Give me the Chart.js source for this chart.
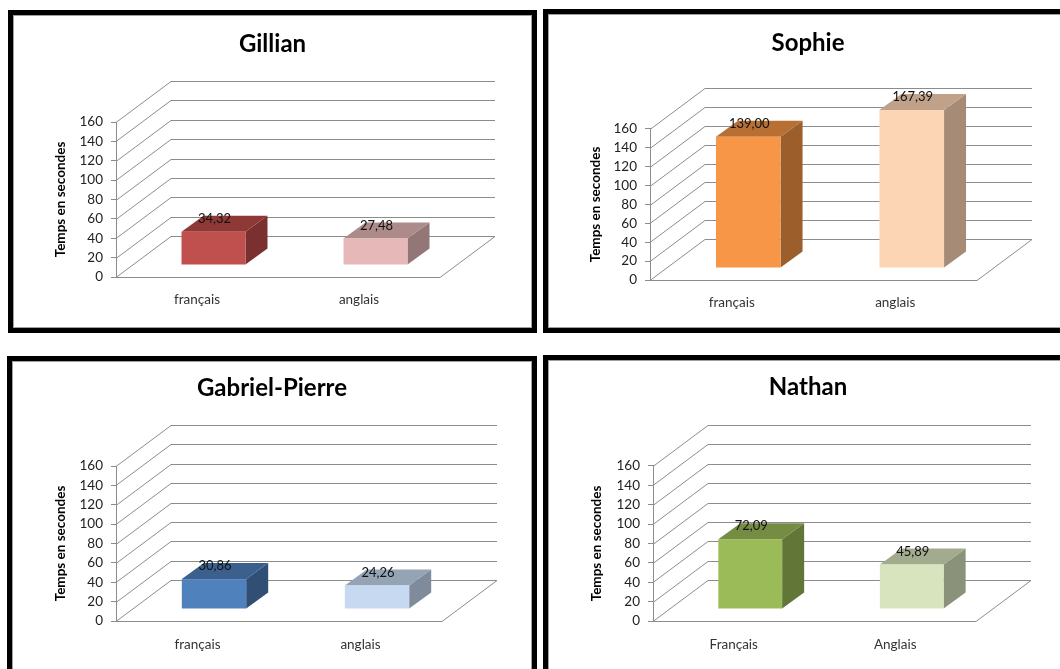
<!DOCTYPE html>
<html>
<head>
<meta charset="utf-8">
<script src="https://cdn.jsdelivr.net/npm/chart.js@4.4.1/dist/chart.umd.min.js"></script>
<style>
  html, body { margin: 0; padding: 0; background: #fff; width: 1060px; height: 669px; overflow: hidden; }
  .panel { position: absolute; box-sizing: border-box; border: 5px solid #000; background: #fff; }
  .inner { box-sizing: border-box; border: 1px solid #a0a0a0; width: 100%; height: 100%; }
  canvas { display: block; }
</style>
</head>
<body>
<script>
// ---------------- DATA ----------------
const titles = ['Gillian', 'Sophie', 'Gabriel-Pierre', 'Nathan'];
const categoriesLower = ['français', 'anglais'];
const categoriesUpper = ['Français', 'Anglais'];
const gillianValues = [34.32, 27.48];
const sophieValues = [139.00, 167.39];
const gabrielValues = [30.86, 24.26];
const nathanValues = [72.09, 45.89];
const yTickMin = 0, yTickMax = 160, yTickStep = 20;
const yAxisTitle = 'Temps en secondes';

// ---------------- STYLES ----------------
const palettes = [
  [{front:'#C0504D', top:'#8E3936', side:'#7A302E'}, {front:'#E6B9B8', top:'#AD8B8A', side:'#927776'}],
  [{front:'#F79646', top:'#B86F34', side:'#9C5F2C'}, {front:'#FCD5B5', top:'#C0A28A', side:'#A68C77'}],
  [{front:'#4F81BD', top:'#3B608D', side:'#314F74'}, {front:'#C6D9F1', top:'#95A4B5', side:'#7F8B9A'}],
  [{front:'#9BBB59', top:'#758C43', side:'#627638'}, {front:'#D7E4BD', top:'#A2AB8E', side:'#8B927A'}]
];
const FONT = 'Lato, "Open Sans", sans-serif';
const WALL = '#8c8c8c';
const DEPTH = {dx: 55, dy: -41};      // wall depth
const BAR_FRONT = {dx: 16.5, dy: -12}; // bar front face offset
const BAR_DEPTH = {dx: 22, dy: -16};   // bar depth
const TICK_SIZE = 13.5, CAT_SIZE = 13.5, LABEL_SIZE = 13, YTITLE_SIZE = 13.5, TITLE_SIZE = 24;

// ---------------- LAYOUT ----------------
const panels = [
  {left: 8,   top: 10,  w: 529, h: 323, L: 102, R: 426, T: 106, B: 261, titleCy: 28, yTitleX: 46.5, xGap: 23},
  {left: 543, top: 9,   w: 530, h: 324, L: 101, R: 428, T: 114, B: 265, titleCy: 28, yTitleX: 47,   xGap: 23},
  {left: 7,   top: 356, w: 530, h: 330, L: 103, R: 429, T: 104, B: 259, titleCy: 26, yTitleX: 47.5, xGap: 24},
  {left: 543, top: 355, w: 530, h: 330, L: 104, R: 427, T: 105, B: 260, titleCy: 26, yTitleX: 48,   xGap: 24}
];
const seriesList = [gillianValues, sophieValues, gabrielValues, nathanValues];
const categoryList = [categoriesLower, categoriesLower, categoriesLower, categoriesUpper];

function line(ctx, x1, y1, x2, y2) {
  ctx.beginPath(); ctx.moveTo(x1, y1); ctx.lineTo(x2, y2); ctx.stroke();
}

const threeD = {
  id: 'threeD',
  beforeDatasetsDraw(chart, args, opts) {
    const ctx = chart.ctx;
    const {left: L, right: R} = chart.chartArea;
    const y = chart.scales.y;
    ctx.save();
    ctx.strokeStyle = WALL;
    ctx.lineWidth = 1;
    y.ticks.forEach(t => {
      const py = Math.round(y.getPixelForValue(t.value)) + 0.5;
      line(ctx, L + DEPTH.dx, py + DEPTH.dy, R + DEPTH.dx, py + DEPTH.dy);
      line(ctx, L, py, L + DEPTH.dx, py + DEPTH.dy);
    });
    const y0 = Math.round(y.getPixelForValue(0)) + 0.5;
    line(ctx, L, y0, R, y0);
    line(ctx, R, y0, R + DEPTH.dx, y0 + DEPTH.dy);
    ctx.restore();
  },
  afterDatasetsDraw(chart, args, opts) {
    const ctx = chart.ctx;
    const meta = chart.getDatasetMeta(0);
    const values = chart.data.datasets[0].data;
    const pal = opts.palette;
    ctx.save();
    meta.data.forEach((bar, i) => {
      const p = bar.getProps(['x', 'y', 'base', 'width'], true);
      const c = pal[i];
      const x0 = p.x - p.width / 2 + BAR_FRONT.dx;
      const x1 = p.x + p.width / 2 + BAR_FRONT.dx;
      const yt = p.y + BAR_FRONT.dy;
      const yb = p.base + BAR_FRONT.dy;
      ctx.fillStyle = c.side;
      ctx.beginPath();
      ctx.moveTo(x1, yt); ctx.lineTo(x1 + BAR_DEPTH.dx, yt + BAR_DEPTH.dy);
      ctx.lineTo(x1 + BAR_DEPTH.dx, yb + BAR_DEPTH.dy); ctx.lineTo(x1, yb);
      ctx.closePath(); ctx.fill();
      ctx.fillStyle = c.top;
      ctx.beginPath();
      ctx.moveTo(x0, yt); ctx.lineTo(x0 + BAR_DEPTH.dx, yt + BAR_DEPTH.dy);
      ctx.lineTo(x1 + BAR_DEPTH.dx, yt + BAR_DEPTH.dy); ctx.lineTo(x1, yt);
      ctx.closePath(); ctx.fill();
      ctx.fillStyle = c.front;
      ctx.fillRect(x0, yt, x1 - x0, yb - yt);
      ctx.fillStyle = '#111';
      ctx.font = LABEL_SIZE + 'px ' + FONT;
      ctx.textAlign = 'center';
      ctx.textBaseline = 'middle';
      ctx.fillText(values[i].toFixed(2).replace('.', ','), (x0 + x1) / 2 + 1, yt - 13);
    });
    ctx.restore();
  }
};

panels.forEach((pn, idx) => {
  const div = document.createElement('div');
  div.className = 'panel';
  div.style.left = pn.left + 'px';
  div.style.top = pn.top + 'px';
  div.style.width = pn.w + 'px';
  div.style.height = pn.h + 'px';
  const inner = document.createElement('div');
  inner.className = 'inner';
  const cw = pn.w - 12, ch = pn.h - 12;
  const canvas = document.createElement('canvas');
  canvas.width = cw; canvas.height = ch;
  canvas.style.width = cw + 'px'; canvas.style.height = ch + 'px';
  inner.appendChild(canvas);
  div.appendChild(inner);
  document.body.appendChild(div);

  const titleLH = TITLE_SIZE * 1.2;
  const padBottom = 10;
  new Chart(canvas.getContext('2d'), {
    type: 'bar',
    data: {
      labels: categoryList[idx],
      datasets: [{
        data: seriesList[idx],
        backgroundColor: 'rgba(0,0,0,0)',
        borderWidth: 0,
        categoryPercentage: 1,
        barPercentage: 0.395
      }]
    },
    options: {
      responsive: false,
      animation: false,
      devicePixelRatio: 1,
      layout: { padding: { left: 0, right: 0, top: 0, bottom: padBottom } },
      plugins: {
        legend: { display: false },
        tooltip: { enabled: false },
        title: {
          display: true,
          text: titles[idx],
          color: '#000',
          font: { family: FONT, size: TITLE_SIZE, weight: 'bold', lineHeight: 1.2 },
          padding: { top: pn.titleCy - titleLH / 2, bottom: pn.T - pn.titleCy - titleLH / 2 }
        },
        threeD: { palette: palettes[idx] }
      },
      scales: {
        x: {
          offset: true,
          grid: { display: false, drawTicks: false },
          border: { display: false },
          ticks: { color: '#333', font: { family: FONT, size: CAT_SIZE, lineHeight: 1.2 }, padding: pn.xGap - CAT_SIZE * 0.6, maxRotation: 0 },
          afterFit: s => { s.height = ch - padBottom - pn.B; }
        },
        y: {
          min: yTickMin, max: yTickMax,
          ticks: { stepSize: yTickStep, autoSkip: false, color: '#222', padding: 8, font: { family: FONT, size: TICK_SIZE, lineHeight: 1 } },
          grid: { drawOnChartArea: false, drawTicks: true, tickLength: 5, color: WALL },
          border: { display: true, color: WALL },
          title: {
            display: true, text: yAxisTitle, color: '#000',
            font: { family: FONT, size: YTITLE_SIZE, weight: 'bold', lineHeight: 1.2 },
            padding: { top: pn.yTitleX - YTITLE_SIZE * 0.6, bottom: 0 }
          },
          afterFit: s => { s.width = pn.L; }
        },
        spacer: {
          type: 'linear',
          position: 'right',
          display: true,
          grid: { display: false, drawTicks: false },
          border: { display: false },
          ticks: { display: false },
          afterFit: s => { s.width = cw - pn.R; }
        }
      }
    },
    plugins: [threeD]
  });
});
</script>
</body>
</html>
